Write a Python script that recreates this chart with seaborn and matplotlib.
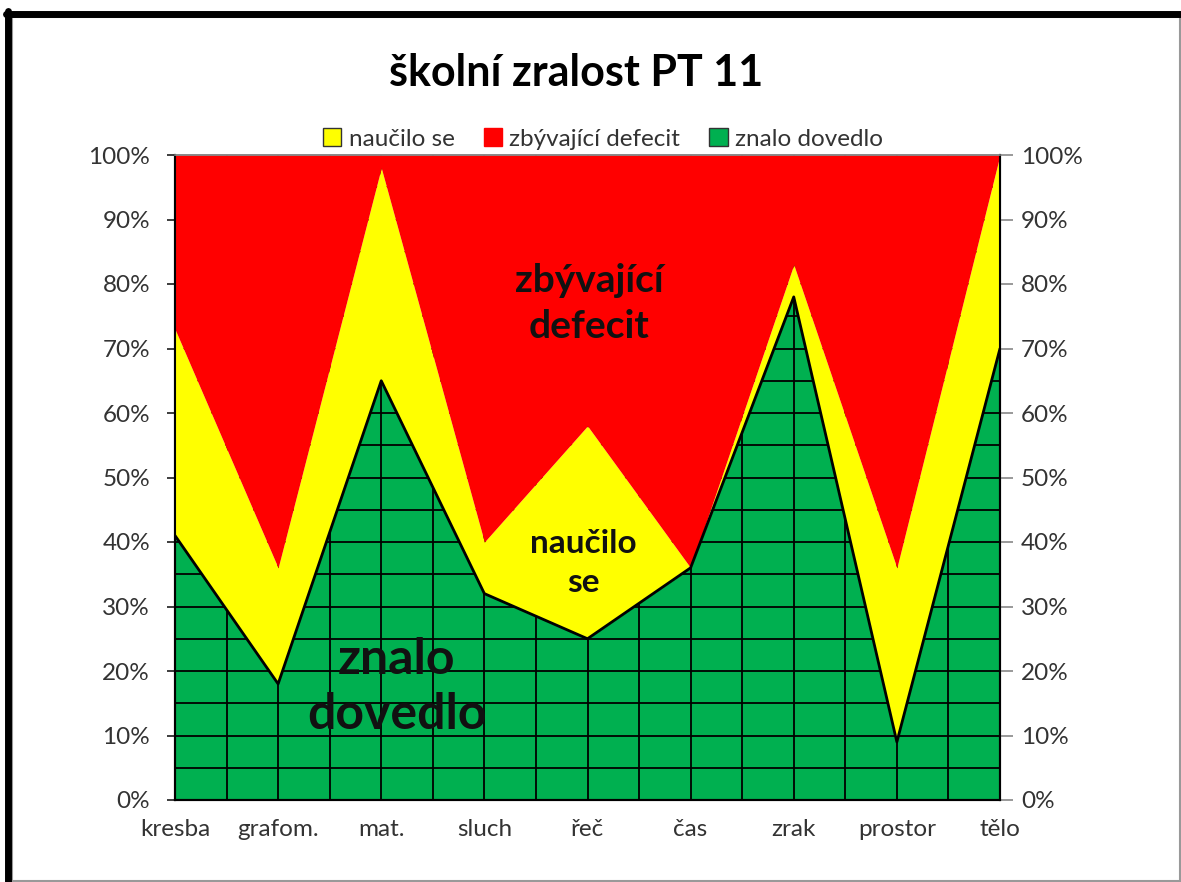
import matplotlib
matplotlib.use("Agg")
import matplotlib.pyplot as plt
from matplotlib.patches import Rectangle, Patch
from matplotlib.lines import Line2D
import numpy as np
import pandas as pd
import seaborn as sns

# --- data -------------------------------------------------------------
categories = ["kresba", "grafom.", "mat.", "sluch", "řeč", "čas", "zrak", "prostor", "tělo"]
znalo_dovedlo = [41, 18, 65, 32, 25, 36, 78, 9, 70]
naucilo_se = [32, 18, 33, 8, 33, 0, 5, 27, 30]
zbyvajici_defecit = [27, 64, 2, 60, 42, 64, 17, 64, 0]
y_ticks = [0, 10, 20, 30, 40, 50, 60, 70, 80, 90, 100]

GREEN = "#00B050"
YELLOW = "#FFFF00"
RED = "#FF0000"

sns.set_theme(style="white")
plt.rcParams["font.family"] = ["Lato", "DejaVu Sans"]

df = pd.DataFrame({
    "kategorie": categories,
    "pos": np.arange(len(categories)),
    "znalo": znalo_dovedlo,
    "naucilo": naucilo_se,
    "defecit": zbyvajici_defecit,
})
df["top_green"] = df["znalo"]
df["top_yellow"] = df["znalo"] + df["naucilo"]
df["top_red"] = df["top_yellow"] + df["defecit"]

fig = plt.figure(figsize=(11.81, 8.82), dpi=100)
ax = fig.add_axes([175 / 1181, 82 / 882, 825 / 1181, 645 / 882])

x = df["pos"].to_numpy()
ax.fill_between(x, 0, df["top_green"], color=GREEN, lw=0, zorder=1)

# grid pattern inside the green band
for gx in np.arange(0, len(categories) - 0.99, 0.5):
    ax.axvline(gx, color="black", lw=1.3, zorder=2)
for gy in range(5, 100, 5):
    ax.axhline(gy, color="black", lw=1.3, zorder=2)

ax.fill_between(x, df["top_green"], df["top_yellow"], color=YELLOW, lw=0, zorder=3)
ax.fill_between(x, df["top_yellow"], df["top_red"], color=RED, lw=0, zorder=3)

# outline of the green series
sns.lineplot(data=df, x="pos", y="top_green", color="black", lw=2.0, ax=ax,
             zorder=4, legend=False)

ax.set_xlim(0, len(categories) - 1)
ax.set_ylim(0, 100)
ax.set_xlabel("")
ax.set_ylabel("")
ax.set_xticks(x)
ax.set_xticklabels(categories, fontsize=17.5, color="#333333")
ax.set_yticks(y_ticks)
ax.set_yticklabels([f"{v}%" for v in y_ticks], fontsize=17.5, color="#333333")
ax.tick_params(axis="y", which="both", left=False, right=False, pad=12)
ax.tick_params(axis="x", bottom=False, top=True, direction="in", length=9,
               color="#888888", width=1.2, pad=14)

# secondary percentage axis on the right
ax2 = ax.twinx()
ax2.set_ylim(0, 100)
ax2.set_yticks(y_ticks)
ax2.set_yticklabels([f"{v}%" for v in y_ticks], fontsize=17.5, color="#333333")
ax2.tick_params(axis="y", right=True, direction="out", length=9, color="#888888",
                width=1.2, pad=6)
ax2.grid(False)

for a in (ax, ax2):
    a.spines["top"].set_color("#888888")
    a.spines["top"].set_linewidth(1.2)
    a.spines["left"].set_color("black")
    a.spines["right"].set_color("black")
    a.spines["bottom"].set_color("black")
    for s in ("left", "right", "bottom"):
        a.spines[s].set_linewidth(1.5)
ax.grid(False)

# labels inside the bands
ax.text(4.02, 77, "zbývající\ndefecit", ha="center", va="center", fontsize=28,
        fontweight="bold", color="#111111", linespacing=1.4, zorder=5)
ax.text(3.96, 36.7, "naučilo\nse", ha="center", va="center", fontsize=24,
        fontweight="bold", color="#111111", linespacing=1.4, zorder=5)
ax.text(2.15, 17.5, "znalo\ndovedlo", ha="center", va="center", fontsize=36,
        fontweight="bold", color="#111111", linespacing=1.25, zorder=5)

fig.text(576 / 1181, 1 - 73 / 882, "školní zralost PT 11", ha="center", va="center",
         fontsize=31, fontweight="bold", color="black")

handles = [
    Patch(facecolor=YELLOW, edgecolor="#333333", label="naučilo se"),
    Patch(facecolor=RED, edgecolor=RED, label="zbývající defecit"),
    Patch(facecolor=GREEN, edgecolor="#333333", label="znalo dovedlo"),
]
fig.legend(handles=handles, loc="center", bbox_to_anchor=(603 / 1181, 1 - 139 / 882),
           ncol=3, frameon=False, fontsize=17.5, handlelength=0.75, handleheight=0.75,
           handletextpad=0.3, columnspacing=1.2, labelcolor="#333333")

# outer chart frame
fig.add_artist(Rectangle((12 / 1181, 1 / 882), 1168 / 1181, 864 / 882,
                         transform=fig.transFigure, fill=False,
                         edgecolor="#999999", lw=1.5))
fig.add_artist(Line2D([8 / 1181, 8 / 1181], [0, 1 - 11 / 882],
                      transform=fig.transFigure, color="black", lw=5))
fig.add_artist(Line2D([6 / 1181, 1], [1 - 14 / 882, 1 - 14 / 882],
                      transform=fig.transFigure, color="black", lw=5))

fig.savefig("out.png", dpi=100)
